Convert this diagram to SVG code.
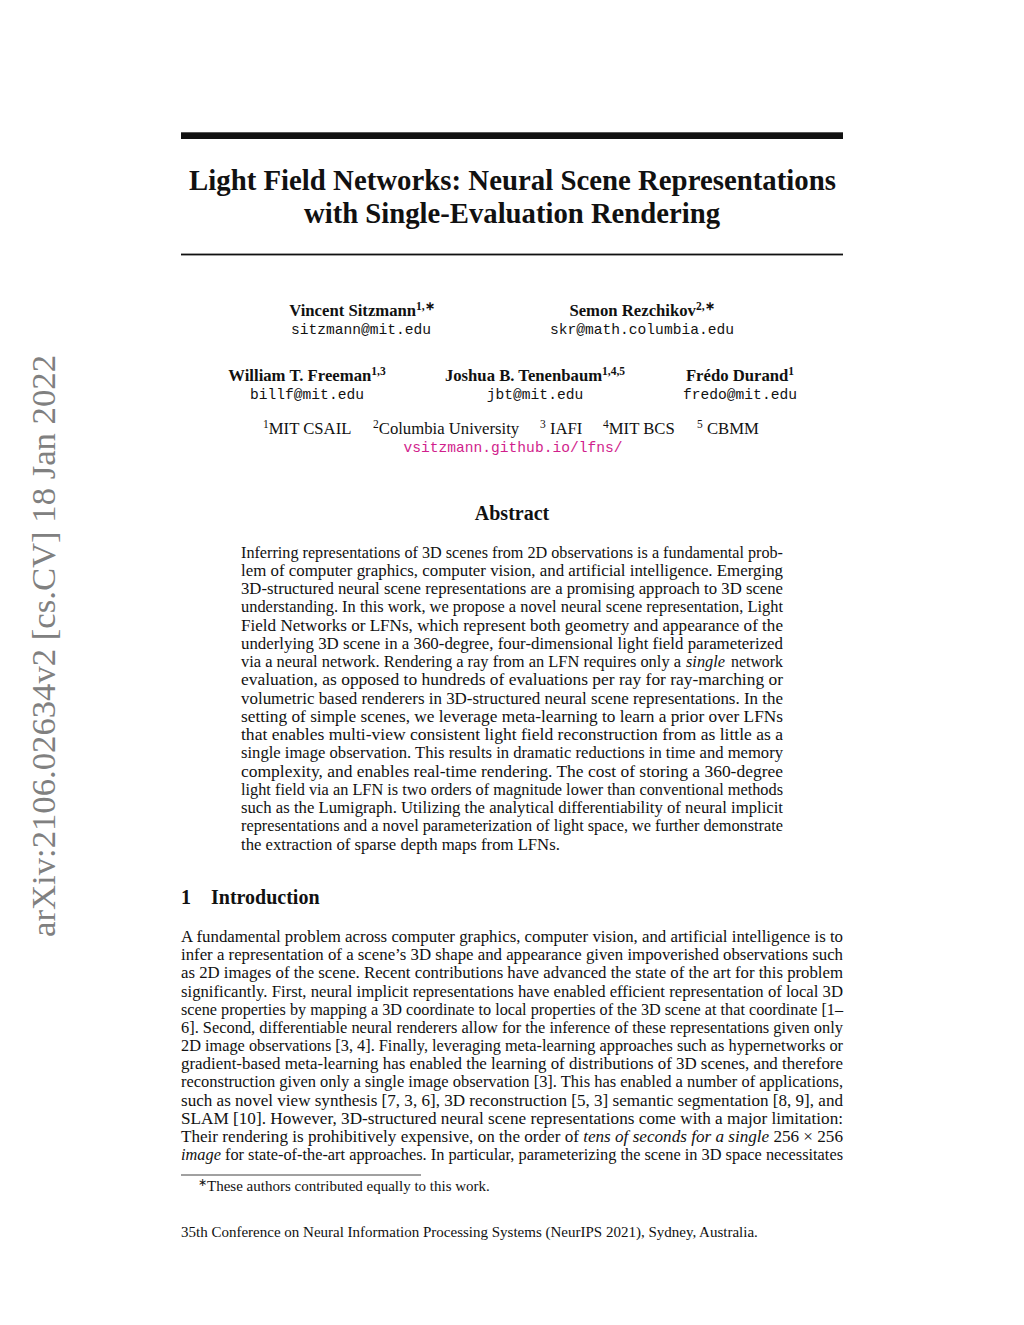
<svg xmlns="http://www.w3.org/2000/svg" width="1024" height="1325" viewBox="0 0 1024 1325">
<style>
text{font-family:"Liberation Serif","Times New Roman",serif;fill:#111;}
.title{font-size:28.4px;font-weight:bold;text-anchor:middle;}
.name{font-size:16.7px;font-weight:bold;text-anchor:middle;}
.sup{font-size:11.5px;}
.mono{font-family:"Liberation Mono","Courier New",monospace;font-size:14.6px;text-anchor:middle;}
.aff{font-size:16.7px;}
.url{font-family:"Liberation Mono","Courier New",monospace;font-size:14.6px;text-anchor:middle;fill:#d11e8c;}
.head{font-size:20px;font-weight:bold;}
.body{font-size:16.7px;}
.small{font-size:15px;}
.side{font-size:33.5px;fill:#808080;}
</style>
<rect width="1024" height="1325" fill="#fff"/>
<g id="header">
<rect x="181" y="132.3" width="662" height="6.7" fill="#111"/>
<text class="title" x="512.5" y="190" textLength="647" lengthAdjust="spacingAndGlyphs">Light Field Networks: Neural Scene Representations</text>
<text class="title" x="512" y="223" textLength="416" lengthAdjust="spacingAndGlyphs">with Single-Evaluation Rendering</text>
<rect x="181" y="253.6" width="662" height="1.8" fill="#111"/>
</g>
<g id="authors">
<text class="name" x="362" y="316">Vincent Sitzmann<tspan class="sup" dy="-6">1,∗</tspan></text>
<text class="mono" x="361" y="333.5">sitzmann@mit.edu</text>
<text class="name" x="642" y="316">Semon Rezchikov<tspan class="sup" dy="-6">2,∗</tspan></text>
<text class="mono" x="642" y="333.5">skr@math.columbia.edu</text>
<text class="name" x="307" y="381">William T. Freeman<tspan class="sup" dy="-6">1,3</tspan></text>
<text class="mono" x="307" y="399">billf@mit.edu</text>
<text class="name" x="535" y="381">Joshua B. Tenenbaum<tspan class="sup" dy="-6">1,4,5</tspan></text>
<text class="mono" x="535" y="399">jbt@mit.edu</text>
<text class="name" x="740" y="381">Frédo Durand<tspan class="sup" dy="-6">1</tspan></text>
<text class="mono" x="740" y="399">fredo@mit.edu</text>
<text class="aff" x="263" y="434"><tspan class="sup" dy="-6">1</tspan><tspan dy="6">MIT CSAIL</tspan></text>
<text class="aff" x="373" y="434"><tspan class="sup" dy="-6">2</tspan><tspan dy="6">Columbia University</tspan></text>
<text class="aff" x="540" y="434"><tspan class="sup" dy="-6">3</tspan><tspan dy="6"> IAFI</tspan></text>
<text class="aff" x="603" y="434"><tspan class="sup" dy="-6">4</tspan><tspan dy="6">MIT BCS</tspan></text>
<text class="aff" x="697" y="434"><tspan class="sup" dy="-6">5</tspan><tspan dy="6"> CBMM</tspan></text>
<text class="url" x="513" y="452">vsitzmann.github.io/lfns/</text>
</g>
<g id="abstract">
<text class="head" x="512" y="520" text-anchor="middle">Abstract</text>
<text class="body" x="241" y="557.5" textLength="542" lengthAdjust="spacingAndGlyphs">Inferring representations of 3D scenes from 2D observations is a fundamental prob-</text>
<text class="body" x="241" y="575.75" textLength="542" lengthAdjust="spacingAndGlyphs">lem of computer graphics, computer vision, and artificial intelligence. Emerging</text>
<text class="body" x="241" y="594" textLength="542" lengthAdjust="spacingAndGlyphs">3D-structured neural scene representations are a promising approach to 3D scene</text>
<text class="body" x="241" y="612.25" textLength="542" lengthAdjust="spacingAndGlyphs">understanding. In this work, we propose a novel neural scene representation, Light</text>
<text class="body" x="241" y="630.5" textLength="542" lengthAdjust="spacingAndGlyphs">Field Networks or LFNs, which represent both geometry and appearance of the</text>
<text class="body" x="241" y="648.75" textLength="542" lengthAdjust="spacingAndGlyphs">underlying 3D scene in a 360-degree, four-dimensional light field parameterized</text>
<text class="body" x="241" y="667" textLength="440" lengthAdjust="spacingAndGlyphs">via a neural network. Rendering a ray from an LFN requires only a</text>
<text class="body" x="686" y="667" font-style="italic" textLength="39" lengthAdjust="spacingAndGlyphs">single</text>
<text class="body" x="731" y="667" textLength="52" lengthAdjust="spacingAndGlyphs">network</text>
<text class="body" x="241" y="685.25" textLength="542" lengthAdjust="spacingAndGlyphs">evaluation, as opposed to hundreds of evaluations per ray for ray-marching or</text>
<text class="body" x="241" y="703.5" textLength="542" lengthAdjust="spacingAndGlyphs">volumetric based renderers in 3D-structured neural scene representations. In the</text>
<text class="body" x="241" y="721.75" textLength="542" lengthAdjust="spacingAndGlyphs">setting of simple scenes, we leverage meta-learning to learn a prior over LFNs</text>
<text class="body" x="241" y="740" textLength="542" lengthAdjust="spacingAndGlyphs">that enables multi-view consistent light field reconstruction from as little as a</text>
<text class="body" x="241" y="758.25" textLength="542" lengthAdjust="spacingAndGlyphs">single image observation. This results in dramatic reductions in time and memory</text>
<text class="body" x="241" y="776.5" textLength="542" lengthAdjust="spacingAndGlyphs">complexity, and enables real-time rendering.  The cost of storing a 360-degree</text>
<text class="body" x="241" y="794.75" textLength="542" lengthAdjust="spacingAndGlyphs">light field via an LFN is two orders of magnitude lower than conventional methods</text>
<text class="body" x="241" y="813" textLength="542" lengthAdjust="spacingAndGlyphs">such as the Lumigraph. Utilizing the analytical differentiability of neural implicit</text>
<text class="body" x="241" y="831.25" textLength="542" lengthAdjust="spacingAndGlyphs">representations and a novel parameterization of light space, we further demonstrate</text>
<text class="body" x="241" y="849.5">the extraction of sparse depth maps from LFNs.</text>
</g>
<g id="introduction">
<text class="head" x="181" y="904">1</text>
<text class="head" x="211" y="904">Introduction</text>
<text class="body" x="181" y="942" textLength="662" lengthAdjust="spacingAndGlyphs">A fundamental problem across computer graphics, computer vision, and artificial intelligence is to</text>
<text class="body" x="181" y="960.17" textLength="662" lengthAdjust="spacingAndGlyphs">infer a representation of a scene’s 3D shape and appearance given impoverished observations such</text>
<text class="body" x="181" y="978.34" textLength="662" lengthAdjust="spacingAndGlyphs">as 2D images of the scene. Recent contributions have advanced the state of the art for this problem</text>
<text class="body" x="181" y="996.51" textLength="662" lengthAdjust="spacingAndGlyphs">significantly. First, neural implicit representations have enabled efficient representation of local 3D</text>
<text class="body" x="181" y="1014.68" textLength="662" lengthAdjust="spacingAndGlyphs">scene properties by mapping a 3D coordinate to local properties of the 3D scene at that coordinate [1–</text>
<text class="body" x="181" y="1032.85" textLength="662" lengthAdjust="spacingAndGlyphs">6]. Second, differentiable neural renderers allow for the inference of these representations given only</text>
<text class="body" x="181" y="1051.02" textLength="662" lengthAdjust="spacingAndGlyphs">2D image observations [3, 4]. Finally, leveraging meta-learning approaches such as hypernetworks or</text>
<text class="body" x="181" y="1069.19" textLength="662" lengthAdjust="spacingAndGlyphs">gradient-based meta-learning has enabled the learning of distributions of 3D scenes, and therefore</text>
<text class="body" x="181" y="1087.36" textLength="662" lengthAdjust="spacingAndGlyphs">reconstruction given only a single image observation [3]. This has enabled a number of applications,</text>
<text class="body" x="181" y="1105.53" textLength="662" lengthAdjust="spacingAndGlyphs">such as novel view synthesis [7, 3, 6], 3D reconstruction [5, 3] semantic segmentation [8, 9], and</text>
<text class="body" x="181" y="1123.7" textLength="662" lengthAdjust="spacingAndGlyphs">SLAM [10].  However, 3D-structured neural scene representations come with a major limitation:</text>
<text class="body" x="181" y="1141.87" textLength="662" lengthAdjust="spacingAndGlyphs">Their rendering is prohibitively expensive, on the order of <tspan font-style="italic">tens of seconds for a single</tspan> 256 × 256</text>
<text class="body" x="181" y="1160.04" textLength="662" lengthAdjust="spacingAndGlyphs"><tspan font-style="italic">image</tspan> for state-of-the-art approaches.  In particular, parameterizing the scene in 3D space necessitates</text>
</g>
<g id="footer">
<line x1="181" y1="1175" x2="421" y2="1175" stroke="#111" stroke-width="0.8"/>
<text class="small" x="198" y="1191"><tspan font-size="10.5px" dy="-5">∗</tspan><tspan dy="5">These authors contributed equally to this work.</tspan></text>
<text class="small" x="181" y="1237">35th Conference on Neural Information Processing Systems (NeurIPS 2021), Sydney, Australia.</text>
</g>
<g id="arxiv-stamp">
<text class="side" transform="translate(55,937) rotate(-90)" textLength="582" lengthAdjust="spacingAndGlyphs">arXiv:2106.02634v2  [cs.CV]  18 Jan 2022</text>
</g>
</svg>
